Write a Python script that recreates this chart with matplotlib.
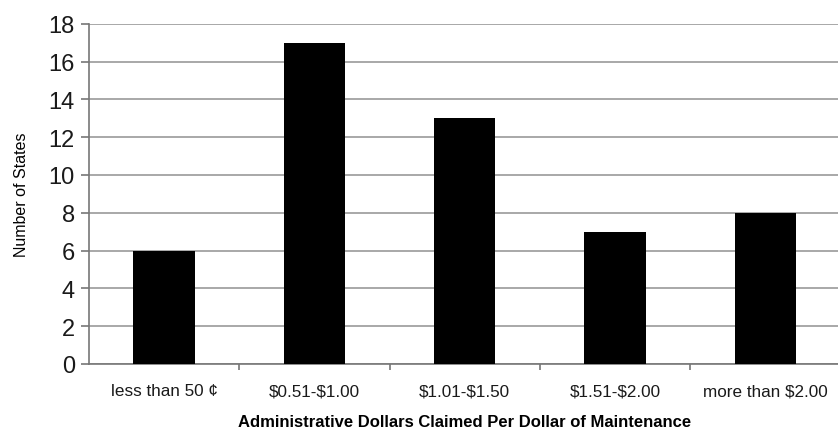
import numpy as np
import matplotlib.pyplot as plt

plt.rcParams['font.family'] = ['Liberation Sans', 'DejaVu Sans']
plt.rcParams['text.color'] = '#1a1a1a'
plt.rcParams['xtick.labelcolor'] = '#1a1a1a'
plt.rcParams['ytick.labelcolor'] = '#1a1a1a'

categories = ['less than 50 \u00a2', r'\$0.51-\$1.00', r'\$1.01-\$1.50', r'\$1.51-\$2.00', r'more than \$2.00']
states = [6, 17, 13, 7, 8]

fig = plt.figure(figsize=(8.38, 4.35), dpi=100)
ax = fig.add_axes([0.106, 0.161, 0.897, 0.782])

x = np.arange(len(categories))
ax.bar(x, states, width=0.41, color='black', zorder=3)

ax.set_xlim(-0.5, len(categories) - 0.5)
ax.set_ylim(0, 18)
ax.set_yticks(np.arange(0, 19, 2))
ax.tick_params(axis='y', labelsize=17, length=6, color='#777777', width=1.2, pad=4)
ax.yaxis.grid(True, color='#9a9a9a', linewidth=1.2, zorder=0)

ax.set_xticks(x)
ax.set_xticklabels(categories, fontsize=12.3)
ax.tick_params(axis='x', length=0, pad=14)
ax.set_xticks(np.arange(0.5, len(categories) - 0.5), minor=True)
ax.tick_params(axis='x', which='minor', length=4, color='#777777', width=1.2, direction='out')

for side in ['top', 'right']:
    ax.spines[side].set_visible(False)
ax.spines['left'].set_color('#777777')
ax.spines['left'].set_linewidth(1.2)
ax.spines['bottom'].set_color('#777777')
ax.spines['bottom'].set_linewidth(1.2)

ax.set_ylabel('Number of States', fontsize=11.5, labelpad=14)
ax.set_xlabel('Administrative Dollars Claimed Per Dollar of Maintenance', fontsize=12,
              fontweight='bold', labelpad=11)

fig.savefig('out.png', dpi=100)
